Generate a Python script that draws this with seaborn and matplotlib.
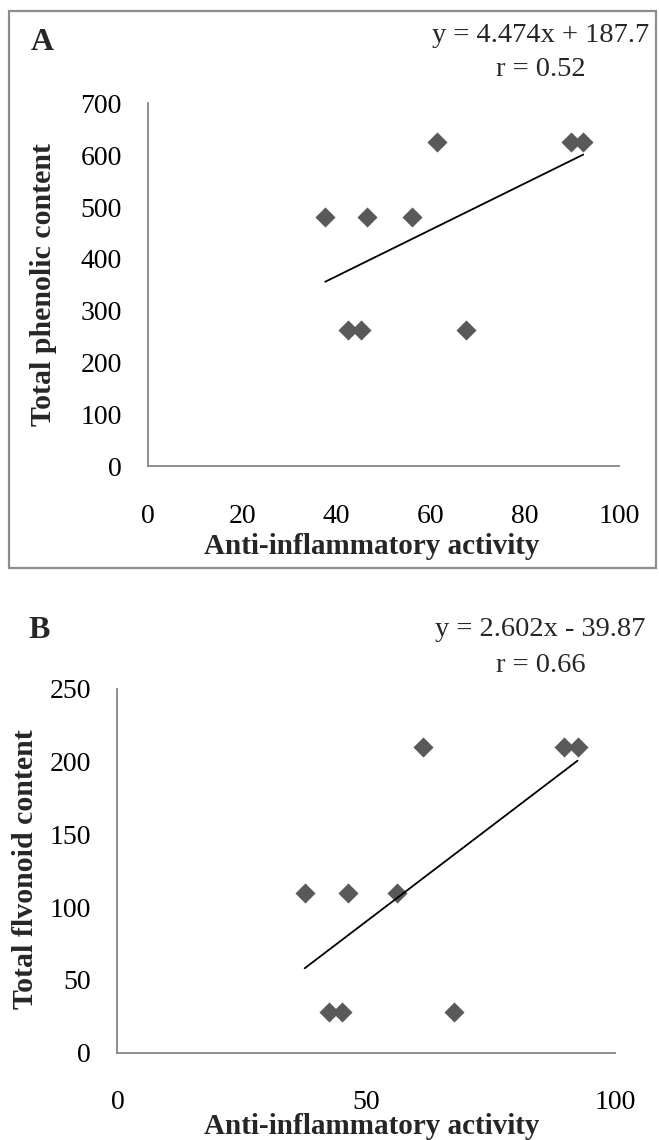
import matplotlib
matplotlib.use("Agg")
import matplotlib.pyplot as plt
from matplotlib.patches import Rectangle
import seaborn as sns
import numpy as np
import pandas as pd

# Anti-inflammatory activity of the samples (shared x values)
activity = [37.6, 42.5, 45.1, 46.4, 56.1, 61.3, 67.6, 89.7, 92.4]
# Total phenolic content
phenolic = [481, 263, 263, 481, 481, 625, 263, 625, 625]
# Total flavonoid content
flavonoid = [110, 27.7, 27.7, 110, 110, 210, 27.7, 210, 210]

# Linear fit reported on each panel
fit_a = (4.474, 187.7)
fit_b = (2.602, -39.87)
eq_a = ["y = 4.474x + 187.7", "r = 0.52"]
eq_b = ["y = 2.602x - 39.87", "r = 0.66"]

xticks_a = [0, 20, 40, 60, 80, 100]
yticks_a = [0, 100, 200, 300, 400, 500, 600, 700]
xticks_b = [0, 50, 100]
yticks_b = [0, 50, 100, 150, 200, 250]

sns.set_theme(style="white")
plt.rcParams["font.family"] = ["Liberation Serif", "DejaVu Serif"]

W, H = 659, 1140
fig = plt.figure(figsize=(W / 100, H / 100), dpi=100)

def fx(px):
    return px / W

def fy(py):
    return 1 - py / H

axis_grey = "#868686"
marker_grey = "#595959"
tick_fs = 20
eq_fs = 20.5
xlabel_fs = 21
ylabel_fs = 21.5

def panel(rect, y, fit, xticks, yticks, ylim, xlabel, ylabel, xl_pos, yl_pos):
    ax = fig.add_axes(rect)
    df = pd.DataFrame({"x": activity, "y": y})
    sns.scatterplot(data=df, x="x", y="y", marker="D", s=105, color=marker_grey,
                    linewidth=0, ax=ax, zorder=3)
    xs = np.array([df["x"].min(), df["x"].max()])
    line = pd.DataFrame({"x": xs, "y": fit[0] * xs + fit[1]})
    sns.lineplot(data=line, x="x", y="y", color="black", linewidth=1.3, ax=ax, zorder=4)
    ax.set_xlim(0, 100)
    ax.set_ylim(*ylim)
    ax.set_xticks(xticks)
    ax.set_yticks(yticks)
    for s in ["top", "right"]:
        ax.spines[s].set_visible(False)
    for s in ["left", "bottom"]:
        ax.spines[s].set_color(axis_grey)
        ax.spines[s].set_linewidth(1.3)
    ax.tick_params(axis="both", direction="out", length=6, width=1.3, color=axis_grey,
                   labelsize=tick_fs, labelcolor="black")
    ax.tick_params(axis="x", pad=21)
    ax.tick_params(axis="y", pad=13)
    ax.set_xlabel(xlabel, fontsize=xlabel_fs, fontweight="bold", va="center", ha="center")
    ax.set_ylabel(ylabel, fontsize=ylabel_fs, fontweight="bold", va="center", ha="center")
    ax.xaxis.set_label_coords(*xl_pos)
    ax.yaxis.set_label_coords(*yl_pos)
    ax.grid(False)
    return ax

# Panel A: phenolic content
panel([fx(148.3), fy(466.3), (619 - 148.3) / W, 363 / H], phenolic, fit_a,
      xticks_a, yticks_a, (0, 700), "Anti-inflammatory activity", "Total phenolic content",
      (0.475, -0.222), (-0.2237, 0.5))

# Panel B: flavonoid content
panel([fx(117.4), fy(1052.7), 498 / W, 364 / H], flavonoid, fit_b,
      xticks_b, yticks_b, (0, 250), "Anti-inflammatory activity", "Total flvonoid content",
      (0.511, -0.204), (-0.1855, 0.505))

# Frame around panel A
fig.patches.append(Rectangle((fx(9), fy(568)), fx(656) - fx(9), fy(11) - fy(568),
                             transform=fig.transFigure, fill=False,
                             edgecolor="#8c8c8c", linewidth=1.6))

# Panel letters
fig.text(fx(42), fy(43), "A", fontsize=23, fontweight="bold", ha="center", va="center")
fig.text(fx(39), fy(630), "B", fontsize=23, fontweight="bold", ha="center", va="center")

# Regression equations
fig.text(fx(541), fy(35), eq_a[0], fontsize=eq_fs, ha="center", va="center")
fig.text(fx(541), fy(70), eq_a[1], fontsize=eq_fs, ha="center", va="center")
fig.text(fx(540), fy(630), eq_b[0], fontsize=eq_fs, ha="center", va="center")
fig.text(fx(541), fy(666), eq_b[1], fontsize=eq_fs, ha="center", va="center")

fig.savefig("out.png", dpi=100)
